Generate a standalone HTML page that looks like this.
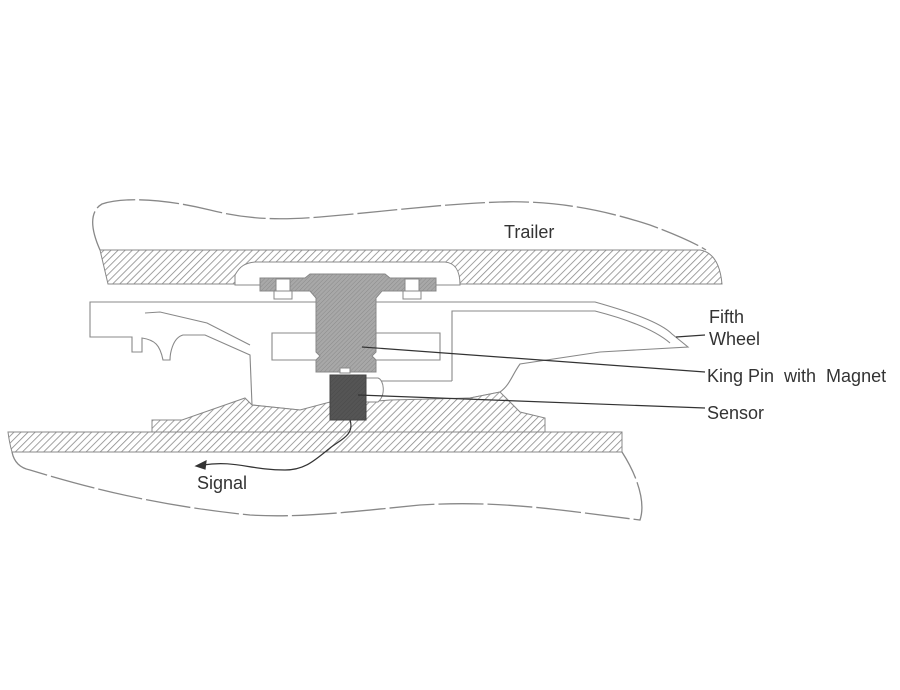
<!DOCTYPE html>
<html><head><meta charset="utf-8"><style>
html,body{margin:0;padding:0;background:#fff;}
svg{display:block}
text{font-family:"Liberation Sans",sans-serif;fill:#333;}
</style></head><body>
<svg width="900" height="690" viewBox="0 0 900 690" xmlns="http://www.w3.org/2000/svg">
<defs>
<pattern id="h" width="5" height="5" patternUnits="userSpaceOnUse" patternTransform="rotate(45)">
<rect width="5" height="5" fill="#fff"/><line x1="0" y1="0" x2="0" y2="5" stroke="#8a8a8a" stroke-width="1.6"/>
</pattern>
<pattern id="g" width="3" height="3" patternUnits="userSpaceOnUse" patternTransform="rotate(45)">
<rect width="3" height="3" fill="#a8a8a8"/><line x1="0" y1="0" x2="0" y2="3" stroke="#8a8a8a" stroke-width="1"/>
</pattern>
<pattern id="d" width="3" height="3" patternUnits="userSpaceOnUse" patternTransform="rotate(45)">
<rect width="3" height="3" fill="#555"/><line x1="0" y1="0" x2="0" y2="3" stroke="#4a4a4a" stroke-width="1"/>
</pattern>
</defs>
<g fill="none" stroke="#888" stroke-width="1.3">
<path d="M100,250 C92,232 88,212 102,204 C125,196 170,200 210,210 C250,220 280,220 320,217 C380,212 440,204 500,202 C560,200 610,212 650,225 C680,236 700,246 706,250" stroke-dasharray="40,4"/>
<path d="M12,452 C14,462 20,468 30,470 C80,485 150,505 250,515 C300,518 350,512 420,505 C500,500 560,510 640,520 C645,505 640,480 622,452" stroke-dasharray="45,4"/>
</g>
<path d="M100,250 L700,250 C712,252 720,262 722,284 L108,284 Z" fill="url(#h)" stroke="#888" stroke-width="1"/>
<path d="M235,285 L235,275 C240,266 245,263 255,262 L445,262 C455,263 460,270 460,285 Z" fill="#fff" stroke="#888" stroke-width="1"/>
<g fill="#fff" stroke="#888" stroke-width="1.1">
<path d="M90,302 L595,302 C630,312 660,322 672,334 L688,347 L600,352 L520,364 C512,375 510,385 500,392 L470,398 L300,410 L252,405 L250,355 L205,335 L183,335 C172,338 170,355 170,360 L163,360 C160,345 155,340 142,338 L142,352 L132,352 L132,337 L90,337 Z"/>
<path d="M452,381 L452,311 L595,311 C630,320 655,330 670,343" fill="none"/>
<path d="M376,381 L452,381" fill="none"/>
<path d="M272,333 L440,333 L440,360 L272,360 Z"/>
<path d="M145,313 L160,312 L207,323 L250,345" fill="none"/>
</g>
<path d="M152,435 L152,420 L182,420 L245,398 L252,405 L300,410 L330,402 L330,420 L366,420 L366,402 L390,400 L470,398 L500,392 L520,412 L545,418 L545,435 Z" fill="url(#h)" stroke="#888" stroke-width="1"/>
<path d="M8,432 L622,432 L622,452 L12,452 C10,445 9,440 8,432 Z" fill="url(#h)" stroke="#888" stroke-width="1"/>
<path d="M260,278 L305,278 L310,274 L385,274 L390,278 L436,278 L436,291 L382,291 L376,298 L376,352 L372,356 L376,360 L376,372 L316,372 L316,360 L320,356 L316,352 L316,298 L310,291 L260,291 Z" fill="url(#g)" stroke="#888" stroke-width="1"/>
<rect x="276" y="279" width="14" height="12" fill="#fff" stroke="#888"/>
<rect x="405" y="279" width="14" height="12" fill="#fff" stroke="#888"/>
<rect x="274" y="291" width="18" height="8" fill="#fff" stroke="#888"/>
<rect x="403" y="291" width="18" height="8" fill="#fff" stroke="#888"/>
<rect x="340" y="368" width="10" height="5" fill="#fff" stroke="#888"/>
<path d="M366,378 L378,378 C384,380 386,395 378,402 L366,402" fill="#fff" stroke="#888"/>
<rect x="330" y="375" width="36" height="45" fill="url(#d)" stroke="#444"/>
<g stroke="#333" stroke-width="1.2" fill="none">
<line x1="676" y1="337" x2="705" y2="335"/>
<line x1="362" y1="347" x2="705" y2="372"/>
<line x1="358" y1="395" x2="705" y2="408"/>
<path d="M350,420 C355,435 340,440 330,448 C315,460 305,470 285,470 C250,470 235,460 203,465"/>
<path d="M196,466 L206,461 L205,469 Z" fill="#333"/>
</g>
<text x="504" y="238" font-size="18">Trailer</text>
<text x="709" y="323" font-size="18">Fifth</text>
<text x="709" y="345" font-size="18">Wheel</text>
<text x="707" y="382" font-size="18" xml:space="preserve">King Pin  with  Magnet</text>
<text x="707" y="419" font-size="18">Sensor</text>
<text x="197" y="489" font-size="18">Signal</text>
</svg>
</body></html>
